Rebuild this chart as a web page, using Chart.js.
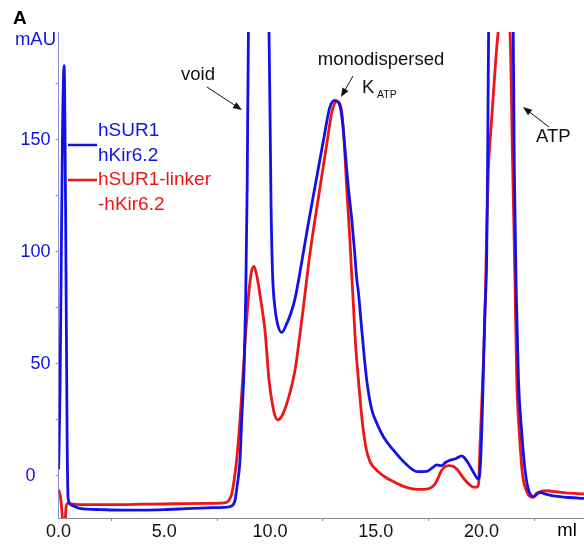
<!DOCTYPE html>
<html>
<head>
<meta charset="utf-8">
<script src="https://cdn.jsdelivr.net/npm/chart.js@4.4.1/dist/chart.umd.min.js"></script>
<style>
  html, body { margin: 0; padding: 0; background: #fff; }
  #wrap { width: 584px; height: 544px; position: relative; }
</style>
</head>
<body>
<div id="wrap"><canvas id="c" width="584" height="544"></canvas></div>
<script>
// ---- data (elution volume in ml, absorbance in mAU) ----
const volBlue = [0.0,0.07,0.18,0.26,0.33,0.4,0.45,0.6,1.0,2.0,3.0,4.0,5.0,6.0,7.0,7.8,8.15,8.34,8.45,8.58,8.66,8.78,8.85,8.92,8.98,9.45,9.95,10.05,10.12,10.22,10.35,10.55,10.75,11.0,11.18,11.4,11.6,11.8,12.03,12.3,12.57,12.83,13.07,13.31,13.45,13.58,13.7,13.86,14.0,14.1,14.18,14.35,14.57,14.8,15.05,15.36,15.83,16.2,16.47,16.8,17.01,17.41,17.7,17.88,18.12,18.3,18.51,18.8,19.07,19.2,19.38,19.6,19.85,19.95,20.06,20.15,20.25,20.3,20.34,20.9,21.5,21.55,21.65,21.75,21.9,22.06,22.22,22.46,22.62,22.77,23.0,23.4,24.0,24.85];
const absBlue = [3,40,150,183,120,20,-10,-13,-14.5,-15,-15.2,-15.2,-15,-14.6,-14.2,-14,-13.5,-11,-4,7,25,50,80,130,200,280,200,120,90,76,68,64,67,73,79,90,101,112,124,138,152,164.5,167.5,165,156,142,129,115,100,88,82,64,43,30,23.5,17.5,11.6,7.5,5,2.5,1.9,2,3.8,4.9,4.6,6,7,7.8,9,8,5.7,2,-1.3,5,35,70,100,150,200,260,200,140,80,43,20,2.7,-6,-9.2,-8.2,-7.3,-8,-8.9,-9.5,-10];

const volRed = [0.0,0.1,0.2,0.3,0.35,0.45,0.6,1.0,2.0,3.0,4.0,5.0,6.0,7.0,7.8,8.05,8.19,8.3,8.42,8.58,8.72,8.86,9.0,9.12,9.24,9.38,9.56,9.76,9.95,10.08,10.2,10.36,10.55,10.85,11.18,11.4,11.6,11.9,12.27,12.5,12.7,12.92,13.15,13.37,13.5,13.63,13.78,13.85,13.95,14.05,14.18,14.3,14.41,14.55,14.73,15.0,15.2,15.5,15.83,16.2,16.62,17.0,17.41,17.65,17.8,17.95,18.04,18.2,18.43,18.65,18.83,19.0,19.22,19.45,19.62,19.8,19.87,19.93,20.06,20.17,20.24,20.32,20.45,20.62,20.79,21.07,21.35,21.47,21.58,21.67,21.8,21.95,22.1,22.3,22.45,22.62,22.85,23.09,23.5,24.0,24.85];
const absRed = [-6,-10,-20,-22,-14,-12,-12.5,-12.8,-12.8,-12.8,-12.6,-12.5,-12.3,-12.2,-12,-11,-8,-2,7,25,45,65,82,91,93.5,89,78.6,65,43,34,28,25,26.5,34,47,62,77,100,123,137,149,162,167,163.5,150,128,105,92,75,58,43,30,20.5,12,6.4,3,1.2,-0.8,-2.5,-4.2,-5.5,-6,-5.9,-5,-3.6,-1,1.2,3.5,4.6,4.3,3.1,1,-1.8,-4,-5,-5,-3,13,43,73,105,135,155,178,198,212,198,141,90,43,18,0,-6,-9.2,-9.5,-7.7,-6.8,-6.6,-7,-7.5,-8];

const seriesNames = ["hSUR1 hKir6.2", "hSUR1-linker -hKir6.2"];
const legendLines = [["hSUR1", "hKir6.2"], ["hSUR1-linker", "-hKir6.2"]];
const xTickLabels = [0, 5, 10, 15, 20];
const yTickLabels = [0, 50, 100, 150];

const BLUE = 'rgb(18,18,232)';
const RED = 'rgb(236,22,22)';
const FONT = '"Liberation Sans", Arial, sans-serif';

function pairs(xs, ys) { return xs.map((x, i) => ({x: x, y: ys[i]})); }

function arrow(ctx, x1, y1, x2, y2) {
  const a = Math.atan2(y2 - y1, x2 - x1);
  const L = 9, W = 3.5;
  ctx.save();
  ctx.strokeStyle = '#111'; ctx.fillStyle = '#111'; ctx.lineWidth = 1;
  ctx.beginPath(); ctx.moveTo(x1, y1);
  ctx.lineTo(x2 - Math.cos(a) * L * 0.8, y2 - Math.sin(a) * L * 0.8); ctx.stroke();
  ctx.beginPath();
  ctx.moveTo(x2, y2);
  ctx.lineTo(x2 - L * Math.cos(a) + W * Math.sin(a), y2 - L * Math.sin(a) - W * Math.cos(a));
  ctx.lineTo(x2 - L * Math.cos(a) - W * Math.sin(a), y2 - L * Math.sin(a) + W * Math.cos(a));
  ctx.closePath(); ctx.fill();
  ctx.restore();
}

const annotations = {
  id: 'annotations',
  afterDraw(chart) {
    const ctx = chart.ctx;
    ctx.save();
    ctx.textBaseline = 'middle';
    // panel letter
    ctx.fillStyle = '#000'; ctx.textAlign = 'left';
    ctx.font = 'bold 19px ' + FONT;
    ctx.fillText('A', 13, 19);
    // y unit
    ctx.fillStyle = BLUE; ctx.textAlign = 'right';
    ctx.font = '18.5px ' + FONT;
    ctx.fillText('mAU', 56, 40);
    // x unit
    ctx.fillStyle = '#000'; ctx.textAlign = 'center';
    ctx.fillText('ml', 567, 531);
    // legend
    const colors = [BLUE, RED];
    const ly = [[131, 156], [180, 205]];
    const lineY = [145, 180];
    chart.data.datasets.forEach((ds, i) => {
      ctx.strokeStyle = colors[i]; ctx.lineWidth = 2.5;
      ctx.beginPath(); ctx.moveTo(68, lineY[i]); ctx.lineTo(97, lineY[i]); ctx.stroke();
      ctx.fillStyle = colors[i]; ctx.textAlign = 'left';
      ctx.font = '19px ' + FONT;
      legendLines[i].forEach((t, k) => ctx.fillText(t, 98, ly[i][k]));
    });
    // annotations
    ctx.fillStyle = '#111'; ctx.font = '18.5px ' + FONT;
    ctx.textAlign = 'left';
    ctx.fillText('void', 181, 75);
    arrow(ctx, 207, 87, 242, 110);
    ctx.textAlign = 'center';
    ctx.fillText('monodispersed', 381, 60);
    ctx.textAlign = 'left';
    ctx.fillText('K', 362, 88);
    ctx.font = '10.5px ' + FONT;
    ctx.fillText('ATP', 377, 95);
    arrow(ctx, 353, 76, 341, 97);
    ctx.font = '18.5px ' + FONT;
    ctx.fillText('ATP', 536, 137);
    arrow(ctx, 549, 127, 523, 107);
    ctx.restore();
  }
};

new Chart(document.getElementById('c'), {
  type: 'line',
  data: {
    datasets: [
      { label: seriesNames[0], data: pairs(volBlue, absBlue), borderColor: BLUE, borderWidth: 2.8,
        pointRadius: 0, cubicInterpolationMode: 'monotone', fill: false },
      { label: seriesNames[1], data: pairs(volRed, absRed), borderColor: RED, borderWidth: 2.8,
        pointRadius: 0, cubicInterpolationMode: 'monotone', fill: false }
    ]
  },
  options: {
    responsive: false,
    animation: false,
    parsing: false,
    layout: { padding: { top: 32, left: 0, right: 0, bottom: 0 } },
    plugins: { legend: { display: false }, tooltip: { enabled: false } },
    scales: {
      x: {
        type: 'linear', min: 0, max: 24.85,
        afterFit(s) { s.height = 26; },
        afterBuildTicks(s) {
          const t = []; for (let v = 0; v <= 22.5; v += 2.5) t.push({value: v}); s.ticks = t;
        },
        border: { color: '#8a8a8a', width: 1 },
        grid: { drawOnChartArea: false, tickLength: 3,
          tickColor: (c) => (c.tick && c.tick.value % 5 === 0) ? 'rgba(0,0,0,0)' : '#8a8a8a' },
        ticks: { color: '#111', font: { family: FONT, size: 18 }, padding: 0, maxRotation: 0, autoSkip: false,
          callback: (v) => xTickLabels.includes(v) ? v.toFixed(1) : '' }
      },
      y: {
        type: 'linear', min: -18.75, max: 198,
        afterFit(s) { s.width = 58.6; },
        afterBuildTicks(s) {
          const t = []; for (let v = 0; v <= 175; v += 25) t.push({value: v}); s.ticks = t;
        },
        border: { color: '#8c8cd0', width: 1 },
        grid: { drawOnChartArea: false, tickLength: 3, tickColor: '#8c8cd0' },
        ticks: { color: BLUE, font: { family: FONT, size: 18 }, padding: 5, autoSkip: false,
          callback: (v) => yTickLabels.includes(v) ? (v === 0 ? '0   ' : String(v)) : '' }
      }
    }
  },
  plugins: [annotations]
});
</script>
</body>
</html>
